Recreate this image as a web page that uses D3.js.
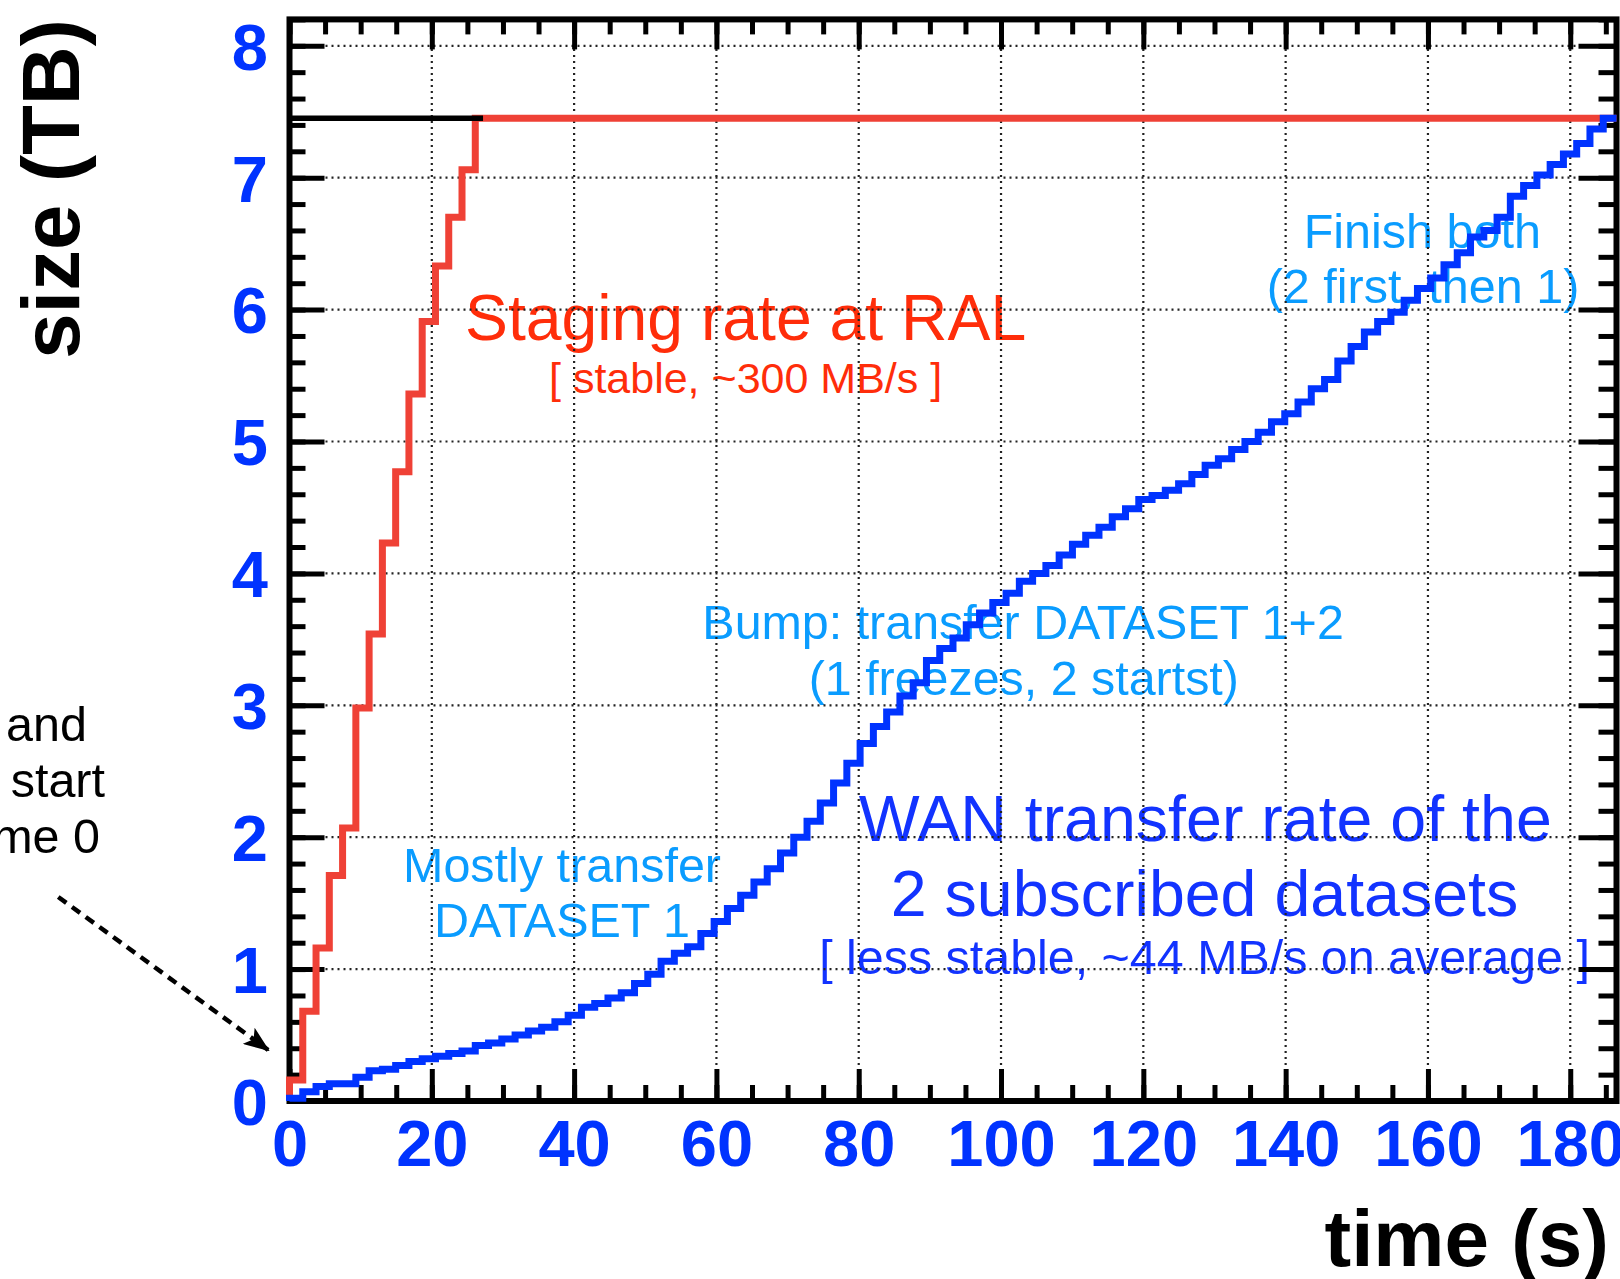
<!DOCTYPE html>
<html>
<head>
<meta charset="utf-8">
<script src="https://cdn.jsdelivr.net/npm/d3@7"></script>
<style>
  body { margin: 0; background: #fff; }
  svg { display: block; font-family: "Liberation Sans", Arial, Helvetica, sans-serif; }
</style>
</head>
<body>
<div id="chart"></div>
<script>
// axis ticks
const xTicks = [0, 20, 40, 60, 80, 100, 120, 140, 160, 180];
const yTicks = [0, 1, 2, 3, 4, 5, 6, 7, 8];

// histogram binning (time axis, s)
const tMax = 186.5;
const nBins = 100;

// cumulative size (TB) per bin, staging at RAL (flat after the last bin)
const stagingSize = [0.16, 0.68, 1.16, 1.71, 2.07, 2.98, 3.54, 4.23, 4.77, 5.36,
                     5.91, 6.33, 6.70, 7.06, 7.45];

// cumulative size (TB) per bin, WAN transfer of the 2 datasets
const wanSize = [
  0.02, 0.07, 0.11, 0.13, 0.13, 0.18, 0.23, 0.24, 0.27, 0.30,
  0.32, 0.34, 0.36, 0.38, 0.42, 0.44, 0.47, 0.50, 0.53, 0.56,
  0.60, 0.65, 0.71, 0.74, 0.78, 0.82, 0.89, 0.96, 1.06, 1.12,
  1.17, 1.27, 1.36, 1.46, 1.56, 1.66, 1.76, 1.88, 2.00, 2.12,
  2.26, 2.41, 2.56, 2.71, 2.84, 2.95, 3.07, 3.17, 3.34, 3.43,
  3.51, 3.61, 3.70, 3.78, 3.85, 3.94, 4.00, 4.06, 4.14, 4.22,
  4.29, 4.35, 4.43, 4.49, 4.56, 4.59, 4.63, 4.68, 4.75, 4.82,
  4.87, 4.94, 5.00, 5.07, 5.15, 5.21, 5.30, 5.40, 5.47, 5.61,
  5.72, 5.83, 5.91, 5.98, 6.07, 6.16, 6.24, 6.34, 6.43, 6.55,
  6.60, 6.70, 6.86, 6.94, 7.02, 7.10, 7.18, 7.26, 7.37, 7.45
];

// total dataset size reference line
const totalSize = 7.45;
const totalLineEnd = 27.2;

const W = 1620, H = 1279;
const tickBlue = "#0033ff", lightBlue = "#0a9cff", darkBlue = "#1233ff", red = "#ff2d0a";

const svg = d3.select("#chart").append("svg")
  .attr("width", W).attr("height", H);
svg.append("rect").attr("width", W).attr("height", H).attr("fill", "#fff");

const x = d3.scaleLinear().domain([0, tMax]).range([289.5, 1616.5]);
const y = d3.scaleLinear().domain([0, 8.2]).range([1101, 19.4]);
const binW = tMax / nBins;

// annotations (under the grid and curves)
function note(txt, tx, ty, size, color) {
  svg.append("text")
    .attr("x", x(tx)).attr("y", y(ty))
    .attr("text-anchor", "middle")
    .attr("font-size", size)
    .attr("fill", color)
    .text(txt);
}
note("Staging rate at RAL", 64.1, 5.77, 64.3, red);
note("[ stable, ~300 MB/s ]", 64.1, 5.365, 43, red);
note("Finish both", 159.2, 6.465, 48.5, lightBlue);
note("(2 first, then 1)", 159.3, 6.05, 48.5, lightBlue);
note("Bump: transfer DATASET 1+2", 103.1, 3.50, 48.4, lightBlue);
note("(1 freezes, 2 startst)", 103.2, 3.08, 48.4, lightBlue);
note("Mostly transfer", 38.3, 1.663, 48.5, lightBlue);
note("DATASET 1", 38.3, 1.246, 48.5, lightBlue);
note("WAN transfer rate of the", 128.7, 1.97, 64.5, darkBlue);
note("2 subscribed datasets", 128.6, 1.40, 64.5, darkBlue);
note("[ less stable, ~44 MB/s on average ]", 128.6, 0.96, 48.4, darkBlue);

// grid
const grid = svg.append("g")
  .attr("stroke", "#222").attr("stroke-width", 2.2).attr("stroke-dasharray", "2 4");
grid.selectAll("line.gx").data(xTicks.filter(d => d > 0)).join("line")
  .attr("x1", d => x(d)).attr("x2", d => x(d))
  .attr("y1", y(0)).attr("y2", y(8.2));
grid.selectAll("line.gy").data(yTicks.filter(d => d > 0)).join("line")
  .attr("y1", d => y(d)).attr("y2", d => y(d))
  .attr("x1", x(0)).attr("x2", x(tMax));

// axes: ticks on all four sides, pointing inward
function styleAxis(g) {
  g.select(".domain").remove();
  g.selectAll(".tick line").attr("stroke", "#000").attr("stroke-width", 5);
}
const xMinor = d3.range(0, tMax, 5);
const yMinor = d3.range(0, 8.21, 0.2);

svg.append("g").attr("transform", `translate(0,${y(0)})`)
  .call(d3.axisBottom(x).tickValues(xMinor).tickSize(-16).tickFormat(""))
  .call(styleAxis);
const xAxis = svg.append("g").attr("transform", `translate(0,${y(0)})`)
  .call(d3.axisBottom(x).tickValues(xTicks).tickSizeInner(-32).tickSizeOuter(0).tickPadding(19))
  .call(styleAxis);
svg.append("g").attr("transform", `translate(0,${y(8.2)})`)
  .call(d3.axisTop(x).tickValues(xMinor).tickSize(-15).tickFormat(""))
  .call(styleAxis);
svg.append("g").attr("transform", `translate(0,${y(8.2)})`)
  .call(d3.axisTop(x).tickValues(xTicks).tickSize(-30).tickFormat(""))
  .call(styleAxis);

svg.append("g").attr("transform", `translate(${x(0)},0)`)
  .call(d3.axisLeft(y).tickValues(yMinor).tickSize(-16).tickFormat(""))
  .call(styleAxis);
const yAxis = svg.append("g").attr("transform", `translate(${x(0)},0)`)
  .call(d3.axisLeft(y).tickValues(yTicks).tickSizeInner(-35).tickSizeOuter(0).tickPadding(21.5))
  .call(styleAxis);
svg.append("g").attr("transform", `translate(${x(tMax)},0)`)
  .call(d3.axisRight(y).tickValues(yMinor).tickSize(-18).tickFormat(""))
  .call(styleAxis);
svg.append("g").attr("transform", `translate(${x(tMax)},0)`)
  .call(d3.axisRight(y).tickValues(yTicks).tickSize(-38).tickFormat(""))
  .call(styleAxis);

[xAxis, yAxis].forEach(g => g.selectAll(".tick text")
  .attr("fill", tickBlue)
  .attr("font-size", 65)
  .attr("font-weight", "bold")
  .attr("font-family", "'Liberation Sans', Arial, sans-serif"));
yAxis.selectAll(".tick text").attr("dy", "0.36em");

// frame
svg.append("rect")
  .attr("x", x(0)).attr("y", y(8.2))
  .attr("width", x(tMax) - x(0)).attr("height", y(0) - y(8.2))
  .attr("fill", "none").attr("stroke", "#000").attr("stroke-width", 6);

// histogram outline: start at zero, step through each bin
function histPoints(vals, lastEdge) {
  const pts = [[0, 0]];
  vals.forEach((v, i) => {
    pts.push([i * binW, v]);
    pts.push([i === vals.length - 1 && lastEdge != null ? lastEdge : (i + 1) * binW, v]);
  });
  return pts;
}
const line = d3.line().x(d => x(d[0])).y(d => y(d[1]));

svg.append("path")
  .attr("d", line(histPoints(stagingSize, tMax)))
  .attr("fill", "none").attr("stroke", "#ef4136").attr("stroke-width", 7)
  .attr("stroke-linejoin", "miter");

svg.append("line")
  .attr("x1", x(0)).attr("x2", x(totalLineEnd))
  .attr("y1", y(totalSize)).attr("y2", y(totalSize))
  .attr("stroke", "#000").attr("stroke-width", 5.5);

svg.append("path")
  .attr("d", line(histPoints(wanSize)))
  .attr("fill", "none").attr("stroke", "#0033ff").attr("stroke-width", 7)
  .attr("stroke-linejoin", "miter");

// axis titles
svg.append("text")
  .attr("transform", "translate(78.5,189) rotate(-90)")
  .attr("text-anchor", "middle")
  .attr("font-size", 81.5).attr("font-weight", "bold")
  .text("size (TB)");
svg.append("text")
  .attr("x", 1609).attr("y", 1266)
  .attr("text-anchor", "end")
  .attr("font-size", 80).attr("font-weight", "bold")
  .text("time (s)");

// left note, cut by the page edge, with dashed arrow to time 0
const left = svg.append("g").attr("font-size", 48.5).attr("text-anchor", "end").attr("fill", "#000");
left.append("text").attr("x", 87).attr("y", 741).text("and");
left.append("text").attr("x", 105).attr("y", 797).text("start");
left.append("text").attr("x", 100).attr("y", 853).text("time 0");

svg.append("defs").append("marker")
  .attr("id", "head").attr("markerUnits", "userSpaceOnUse")
  .attr("viewBox", "0 0 26 20").attr("markerWidth", 26).attr("markerHeight", 20)
  .attr("refX", 24).attr("refY", 10).attr("orient", "auto")
  .append("path").attr("d", "M0,0 L26,10 L0,20 L6,10 Z").attr("fill", "#000");

svg.append("line")
  .attr("x1", x(-32.5)).attr("y1", y(1.547))
  .attr("x2", x(-3.0)).attr("y2", y(0.387))
  .attr("stroke", "#000").attr("stroke-width", 4.5)
  .attr("stroke-dasharray", "10 7")
  .attr("marker-end", "url(#head)");
</script>
</body>
</html>
